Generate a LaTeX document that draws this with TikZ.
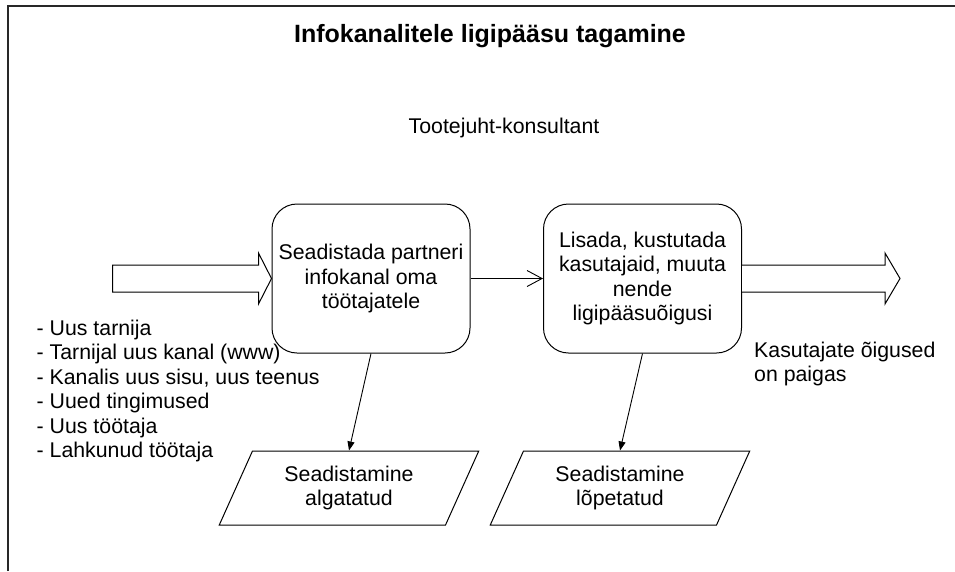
\documentclass[tikz,border=0pt]{standalone}
\usepackage{fontspec}
\setmainfont{Liberation Sans}
\usetikzlibrary{arrows.meta,shapes.geometric,calc}
\begin{document}
\begin{tikzpicture}[x=1pt,y=-1pt,
  txt/.style={font=\fontsize{21.3}{24.5}\selectfont, inner sep=0pt},
  procbox/.style={draw, line width=1pt, rounded corners=25pt,
    minimum width=198pt, minimum height=149pt, align=center, txt},
  databox/.style={draw, line width=1pt, trapezium,
    trapezium left angle=63.4, trapezium right angle=116.6,
    trapezium stretches=true, minimum width=260pt, minimum height=74pt,
    align=center, txt},
  flow/.style={draw, line width=0.9pt, -{Straight Barb[length=15pt,width=16pt]}},
  result/.style={draw, line width=0.9pt, -{Triangle[length=9pt,width=7pt]}},
  blockarrow/.style={draw, line width=1pt, fill=white, line join=miter}
]
\useasboundingbox (0,0) rectangle (955,571);

% open frame: left and top edges
\draw[line width=1.5pt, color={rgb,255:red,40;green,40;blue,40}]
  (8,571) -- (8,6) -- (955,6);

% headings
\node[font=\bfseries\fontsize{25}{30}\selectfont, anchor=base, inner sep=0pt]
  (title) at (490,42) {Infokanalitele ligipääsu tagamine};
\node[txt, anchor=base] (role) at (504,133) {Tootejuht-konsultant};

% process steps
\node[procbox] (b1) at (371,278.5) {Seadistada partneri\\infokanal oma\\töötajatele};
\node[procbox] (b2) at (642.5,278.5) {Lisada, kustutada\\kasutajaid, muuta\\nende\\ligipääsuõigusi};

% states
\node[databox] (d1) at (349,488) {Seadistamine\\algatatud};
\node[databox] (d2) at (620,488) {Seadistamine\\lõpetatud};

% connectors
\draw[flow] (b1) -- (b2);
\draw[result] (b1.south) -- (d1.north);
\draw[result] (b2.south) -- (d2.north);

% incoming block arrow
\draw[blockarrow]
  ($(b1.west)+(-159,-13.5)$) -- ($(b1.west)+(-13,-13.5)$) --
  ($(b1.west)+(-13,-25.5)$) -- (b1.west) --
  ($(b1.west)+(-13,25.5)$) -- ($(b1.west)+(-13,13.5)$) --
  ($(b1.west)+(-159,13.5)$) -- cycle;

% outgoing block arrow
\coordinate (outtip) at (900,278.5);
\draw[blockarrow]
  ($(b2.east)+(0,-13.5)$) -- ($(outtip)+(-15,-13.5)$) --
  ($(outtip)+(-15,-25.5)$) -- (outtip) --
  ($(outtip)+(-15,25.5)$) -- ($(outtip)+(-15,13.5)$) --
  ($(b2.east)+(0,13.5)$);

% triggers and outcome
\node[txt, anchor=north west, align=left] (triggers) at (36.5,319.8)
  {- Uus tarnija\\- Tarnijal uus kanal (www)\\- Kanalis uus sisu, uus teenus\\- Uued tingimused\\- Uus töötaja\\- Lahkunud töötaja};
\node[txt, anchor=north west, align=left] (outcome) at (754,341.7)
  {Kasutajate õigused\\on paigas};
\end{tikzpicture}
\end{document}
